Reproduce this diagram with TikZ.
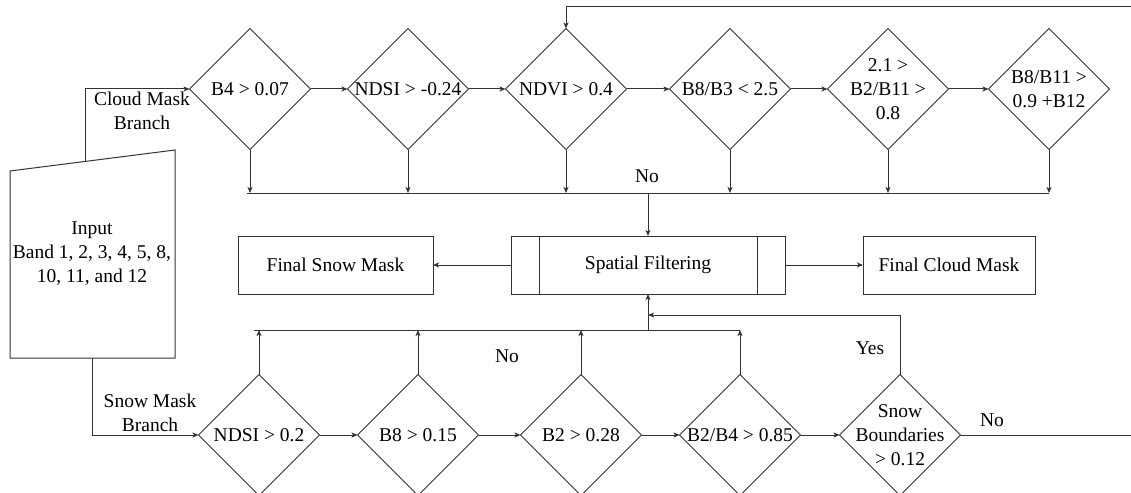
\documentclass[tikz,border=0pt]{standalone}
\usepackage{fontspec}
\setmainfont{Liberation Serif}
\usetikzlibrary{shapes.geometric,arrows.meta,calc}

\tikzset{
  line/.style={draw=black!80, line width=1pt},
  arr/.style={line, -{Stealth[length=6pt,width=5pt,inset=1.5pt]}},
  dia/.style={shape=diamond, line, inner sep=0pt, outer sep=0pt,
              minimum width=121pt, minimum height=121pt},
  box/.style={line, rectangle, inner sep=0pt, outer sep=0pt, minimum height=58pt},
  lbl/.style={font=\fontsize{19.5}{24}\selectfont, align=center, inner sep=0pt, text=black}
}

\begin{document}
\begin{tikzpicture}[x=1pt, y=-1pt]
\useasboundingbox (0,0) rectangle (1131,492);

% input block (manual-input shape)
\coordinate (inTL) at (10,171);
\coordinate (inTR) at (175,150);
\coordinate (inBR) at (175,358);
\coordinate (inBL) at (10,358);
\draw[line] (inTL) -- (inTR) -- (inBR) -- (inBL) -- cycle;
\node[lbl] (inp) at (92,254) {Input\\Band 1, 2, 3, 4, 5, 8,\\10, 11, and 12};
\coordinate (cloudOut) at ($(inTL)!0.455!(inTR)$);
\coordinate (snowOut) at ($(inBL)!0.503!(inBR)$);

% cloud mask tests
\node[dia] (c1) at (250,89) {};
\node[dia] (c2) at (408,89) {};
\node[dia] (c3) at (566,89) {};
\node[dia] (c4) at (730,89) {};
\node[dia] (c5) at (888,89) {};
\node[dia] (c6) at (1049,89) {};
\node[lbl] at (c1) {B4 > 0.07};
\node[lbl] at (c2) {NDSI > -0.24};
\node[lbl] at (c3) {NDVI > 0.4};
\node[lbl] at (c4) {B8/B3 < 2.5};
\node[lbl] at (c5) {2.1 >\\B2/B11 >\\0.8};
\node[lbl] at (c6) {B8/B11 >\\0.9 +B12};

% snow mask tests
\node[dia] (s1) at (259,435) {};
\node[dia] (s2) at (418,435) {};
\node[dia] (s3) at (581,435) {};
\node[dia] (s4) at (740,435) {};
\node[dia] (s5) at (900,435) {};
\node[lbl] at (s1) {NDSI > 0.2};
\node[lbl] at (s2) {B8 > 0.15};
\node[lbl] at (s3) {B2 > 0.28};
\node[lbl] at (s4) {B2/B4 > 0.85};
\node[lbl] at (s5) {Snow\\Boundaries\\> 0.12};

% output blocks
\node[box, minimum width=274pt] (sf) at (648,265) {};
\node[lbl] at (sf) {Spatial Filtering};
\draw[line] ([xshift=28pt]sf.north west) -- ([xshift=28pt]sf.south west);
\draw[line] ([xshift=-28pt]sf.north east) -- ([xshift=-28pt]sf.south east);
\node[box, minimum width=195pt] (fsm) at (335.5,265) {};
\node[lbl] at (fsm) {Final Snow Mask};
\node[box, minimum width=172pt] (fcm) at (949,265) {};
\node[lbl] at (fcm) {Final Cloud Mask};

% branches from the input
\draw[arr] (cloudOut) -- (cloudOut |- c1.west) -- (c1.west);
\node[lbl] at (142,111) {Cloud Mask\\Branch};
\draw[arr] (snowOut) -- (snowOut |- s1.west) -- (s1.west);
\node[lbl] at (150,413) {Snow Mask\\Branch};

% cloud chain
\draw[arr] (c1.east) -- (c2.west);
\draw[arr] (c2.east) -- (c3.west);
\draw[arr] (c3.east) -- (c4.west);
\draw[arr] (c4.east) -- (c5.west);
\draw[arr] (c5.east) -- (c6.west);
\coordinate (fbR) at (1131,6.5);
\draw[arr] (fbR) -- (c3.north |- fbR) -- (c3.north);

% cloud "No" collector
\coordinate (topbus) at (sf.north |- 0,193);
\foreach \d in {c1,c2,c3,c4,c5,c6}
  \draw[arr] (\d.south) -- (\d.south |- topbus);
\draw[line] ([xshift=-3pt]c1.south |- topbus) -- (c6.south |- topbus);
\draw[arr] (topbus) -- (sf.north);
\node[lbl] at (647,176) {No};

% snow chain
\draw[arr] (s1.east) -- (s2.west);
\draw[arr] (s2.east) -- (s3.west);
\draw[arr] (s3.east) -- (s4.west);
\draw[arr] (s4.east) -- (s5.west);

% snow "No" collector
\coordinate (botbus) at (sf.south |- 0,330);
\foreach \d in {s1,s2,s3,s4}
  \draw[arr] (\d.north) -- (\d.north |- botbus);
\draw[line] ([xshift=-5pt]s1.north |- botbus) -- (s4.north |- botbus);
\draw[arr] (botbus) -- (sf.south);
\node[lbl] at (507,356) {No};

% snow boundaries outcomes
\coordinate (yesJoin) at (sf.south |- 0,315);
\draw[arr] (s5.north) -- (s5.north |- yesJoin) -- (yesJoin);
\node[lbl] at (870,348) {Yes};
\coordinate (noR) at (1131,435);
\draw[line] (s5.east) -- (noR);
\node[lbl] at (992,420) {No};

% final masks
\draw[arr] (sf.west) -- (fsm.east);
\draw[arr] (sf.east) -- (fcm.west);
\end{tikzpicture}
\end{document}
